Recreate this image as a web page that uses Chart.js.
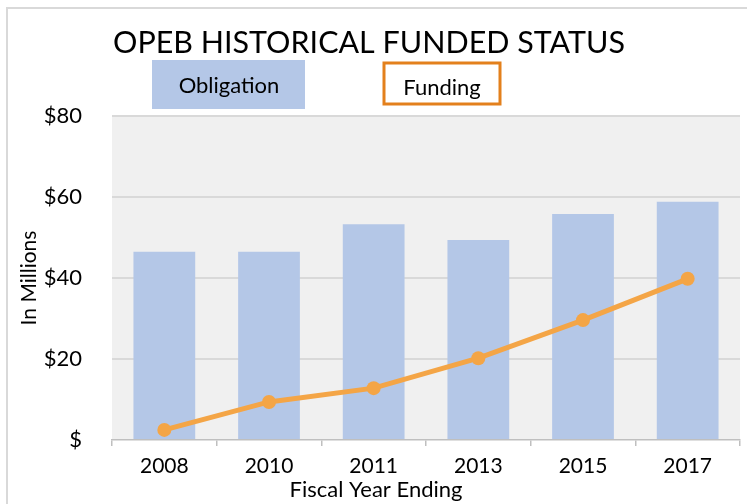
<!DOCTYPE html>
<html>
<head>
<meta charset="utf-8">
<script src="https://cdn.jsdelivr.net/npm/chart.js@4.4.0/dist/chart.umd.min.js"></script>
<style>
html,body{margin:0;padding:0;background:#fff;}
#wrap{position:relative;width:747px;height:504px;overflow:hidden;}
#frame{position:absolute;left:6px;top:7px;width:760px;height:520px;border:2px solid #D9D9D9;box-sizing:border-box;}
canvas{position:absolute;left:0;top:0;}
</style>
</head>
<body>
<div id="wrap">
<div id="frame"></div>
<canvas id="c" width="747" height="504"></canvas>
</div>
<script>
const chartTitle = 'OPEB HISTORICAL FUNDED STATUS';
const categories = ['2008', '2010', '2011', '2013', '2015', '2017'];
const obligation = [46.5, 46.5, 53.3, 49.4, 55.8, 58.8];
const funding = [2.5, 9.4, 12.8, 20.2, 29.6, 39.8];
const seriesNames = ['Obligation', 'Funding'];
const yTicks = [0, 20, 40, 60, 80];
const yTitle = 'In Millions';
const xTitle = 'Fiscal Year Ending';

const FONT = "Lato, 'Open Sans', sans-serif";

const bgPlugin = {
  id: 'bg',
  beforeDraw(chart) {
    const {ctx, chartArea: a} = chart;
    ctx.save();
    ctx.fillStyle = '#F0F0F0';
    ctx.fillRect(a.left, a.top, a.right - a.left, a.bottom - a.top);
    ctx.restore();
  },
  afterDraw(chart) {
    const ctx = chart.ctx;
    ctx.save();
    ctx.fillStyle = '#000';
    ctx.textAlign = 'center';
    ctx.textBaseline = 'middle';
    ctx.font = "31px " + FONT;
    ctx.fillText(chartTitle, 369, 43, 512);
    // legend: obligation
    ctx.fillStyle = '#B4C7E7';
    ctx.fillRect(152, 60, 153, 49);
    ctx.fillStyle = '#000';
    ctx.font = "22px " + FONT;
    ctx.fillText(seriesNames[0], 229, 86);
    // legend: funding
    ctx.fillStyle = '#fff';
    ctx.fillRect(384, 63, 116, 41);
    ctx.strokeStyle = '#E3801C';
    ctx.lineWidth = 3;
    ctx.strokeRect(384, 63, 116, 41);
    ctx.fillStyle = '#000';
    ctx.fillText(seriesNames[1], 442, 88);
    // x axis title
    ctx.fillText(xTitle, 376, 490);
    ctx.restore();
  }
};

new Chart(document.getElementById('c'), {
  data: {
    labels: categories,
    datasets: [
      {
        type: 'line',
        label: seriesNames[1],
        data: funding,
        borderColor: '#F4A546',
        backgroundColor: '#F4A546',
        borderWidth: 5,
        pointRadius: 7,
        pointBackgroundColor: '#F4A546',
        pointBorderWidth: 0,
        tension: 0,
        order: 0
      },
      {
        type: 'bar',
        label: seriesNames[0],
        data: obligation,
        backgroundColor: '#B4C7E7',
        barPercentage: 0.59,
        categoryPercentage: 1,
        order: 1
      }
    ]
  },
  options: {
    responsive: false,
    animation: false,
    devicePixelRatio: 1,
    layout: {padding: {top: 116, right: 4, left: 0, bottom: 0}},
    plugins: {legend: {display: false}, title: {display: false}, tooltip: {enabled: false}},
    scales: {
      x: {
        offset: true,
        grid: {offset: true, drawOnChartArea: false, color: '#BFBFBF', tickLength: 6, lineWidth: 1.5},
        border: {color: '#BFBFBF', width: 1.5},
        ticks: {color: '#000', font: {family: FONT, size: 21}, padding: 8, maxRotation: 0},
        title: {display: false},
        afterFit(s) { s.height = 64; }
      },
      y: {
        min: 0, max: 80,
        afterBuildTicks(s) { s.ticks = yTicks.map(v => ({value: v})); },
        grid: {color: ctx => ctx.tick && ctx.tick.value === 0 ? 'rgba(0,0,0,0)' : '#D9D9D9', lineWidth: 2, drawTicks: false},
        border: {display: false},
        ticks: {color: '#000', font: {family: FONT, size: 22}, padding: 30,
          callback: v => v === 0 ? '$' : '$' + v},
        title: {display: true, text: yTitle, color: '#000', font: {family: FONT, size: 21}, padding: {top: 17, bottom: 0}},
        afterFit(s) { s.width = 112; }
      }
    }
  },
  plugins: [bgPlugin]
});
</script>
</body>
</html>
